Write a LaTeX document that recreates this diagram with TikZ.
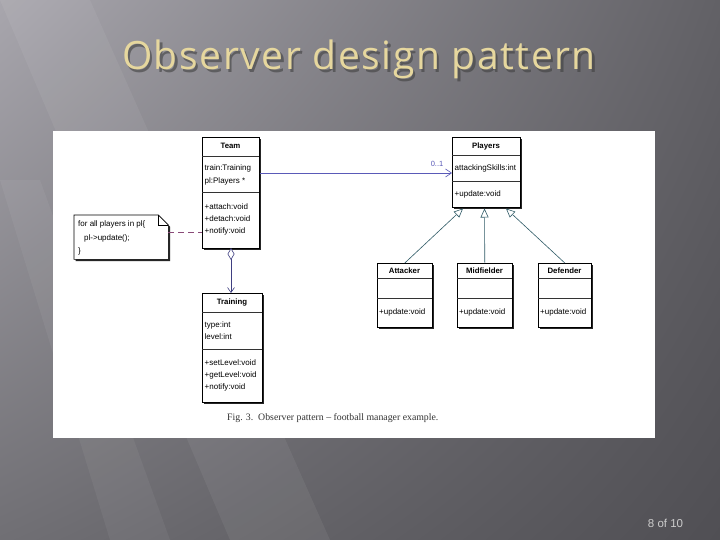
\documentclass[tikz,border=0pt]{standalone}
\usepackage{fontspec}
\setmainfont{Liberation Sans}
\newfontfamily\titlefont[LetterSpace=4]{Open Sans}
\newfontfamily\capfont[Ligatures=TeX]{Liberation Serif}
\usetikzlibrary{arrows.meta,shadows,calc,shadings}
\definecolor{titlecol}{HTML}{E6D79E}
\definecolor{assoc}{HTML}{5A5AB8}
\definecolor{gen}{HTML}{2F5A66}
\definecolor{notedash}{HTML}{8A4A78}
\definecolor{bgul}{RGB}{168,166,173}
\definecolor{bgur}{RGB}{98,97,102}
\definecolor{bgll}{RGB}{112,111,116}
\definecolor{bglr}{RGB}{80,79,84}
\tikzset{
  umlbox/.style={draw=black, fill=white, line width=0.6pt, anchor=north west, inner sep=0pt,
    drop shadow={shadow xshift=1.6pt, shadow yshift=-1.6pt, opacity=1, fill=black!85}},
  umltxt/.style={anchor=west, inner sep=0pt, font=\fontsize{8}{9}\selectfont},
  umlhead/.style={anchor=center, inner sep=0pt, font=\fontsize{7.8}{9}\selectfont\bfseries},
  sep/.style={line width=0.5pt, draw=black!80},
  genarrow/.style={gen, line width=0.6pt, -{Triangle[open, fill=white, length=9pt, width=8pt]}},
}
\begin{document}
\begin{tikzpicture}[x=1pt,y=-1pt]
\useasboundingbox (0,0) rectangle (720,540);
% background
\shade[upper left=bgul, upper right=bgur, lower left=bgll, lower right=bglr]
  (0,0) rectangle (720,540);
\fill[white, opacity=0.06] (0,0) -- (90,0) -- (330,540) -- (230,540) -- cycle;
\fill[white, opacity=0.05] (0,180) -- (40,180) -- (170,540) -- (110,540) -- cycle;
% title
\node[text=black!75, opacity=0.6, anchor=base] at (361.5,72.5) {\titlefont\fontsize{39}{44}\selectfont Observer design pattern};
\node[text=titlecol, anchor=base] (title) at (359,70) {\titlefont\fontsize{39}{44}\selectfont Observer design pattern};
% white panel
\node[fill=white, anchor=north west, minimum width=602pt, minimum height=307pt, inner sep=0pt] (panel) at (53,131) {};

% Team
\node[umlbox, minimum width=57pt, minimum height=111pt] (team) at (202,137) {};
\draw[sep] (202,156) -- (259,156);
\draw[sep] (202,192) -- (259,192);
\node[umlhead] at (230.5,146) {Team};
\node[umltxt] at (204.5,168) {train:Training};
\node[umltxt] at (204.5,181) {pl:Players *};
\node[umltxt] at (204.5,207) {+attach:void};
\node[umltxt] at (204.5,219) {+detach:void};
\node[umltxt] at (204.5,231) {+notify:void};

% Players
\node[umlbox, minimum width=68pt, minimum height=70pt] (players) at (452,137) {};
\draw[sep] (452,155) -- (520,155);
\draw[sep] (452,181) -- (520,181);
\node[umlhead] at (486,146) {Players};
\node[umltxt] at (454.5,168) {attackingSkills:int};
\node[umltxt] at (454.5,194) {+update:void};

% Training
\node[umlbox, minimum width=60pt, minimum height=109pt] (training) at (202,293) {};
\draw[sep] (202,312) -- (262,312);
\draw[sep] (202,349) -- (262,349);
\node[umlhead] at (232,302) {Training};
\node[umltxt] at (204.5,325) {type:int};
\node[umltxt] at (204.5,337) {level:int};
\node[umltxt] at (204.5,363) {+setLevel:void};
\node[umltxt] at (204.5,375) {+getLevel:void};
\node[umltxt] at (204.5,387) {+notify:void};

% subclasses
\node[umlbox, minimum width=55pt, minimum height=64pt] (attacker) at (377,263) {};
\draw[sep] (377,278) -- (432,278);
\draw[sep] (377,298) -- (432,298);
\node[umlhead] at (404.5,270.5) {Attacker};
\node[umltxt] at (379,312) {+update:void};

\node[umlbox, minimum width=55pt, minimum height=64pt] (midfielder) at (457,263) {};
\draw[sep] (457,278) -- (512,278);
\draw[sep] (457,298) -- (512,298);
\node[umlhead] at (484.5,270.5) {Midfielder};
\node[umltxt] at (459,312) {+update:void};

\node[umlbox, minimum width=53pt, minimum height=64pt] (defender) at (538,263) {};
\draw[sep] (538,278) -- (591,278);
\draw[sep] (538,298) -- (591,298);
\node[umlhead] at (564.5,270.5) {Defender};
\node[umltxt] at (540,312) {+update:void};

% note
\node[anchor=north west, minimum width=94pt, minimum height=44pt, inner sep=0pt] (note) at (74,215) {};
\fill[black!85] ($(note.north west)+(1.6,1.6)$) -- ($(note.north east)+(-10+1.6,1.6)$) -- ($(note.north east)+(1.6,10+1.6)$) -- ($(note.south east)+(1.6,1.6)$) -- ($(note.south west)+(1.6,1.6)$) -- cycle;
\draw[fill=white, line width=0.6pt] (note.north west) -- ($(note.north east)+(-10,0)$) -- ($(note.north east)+(0,10)$) -- (note.south east) -- (note.south west) -- cycle;
\draw[line width=0.5pt] ($(note.north east)+(-10,0)$) -- ($(note.north east)+(-10,10)$) -- ($(note.north east)+(0,10)$);
\node[umltxt] at (78,224) {for all players in pl\{};
\node[umltxt] at (84,238) {pl-\textgreater update();};
\node[umltxt] at (78,251) {\}};

% connectors
\coordinate (ta) at (team.east |- 0,173);
\coordinate (pa) at (players.west |- 0,173);
\draw[assoc, line width=0.6pt, -{Straight Barb[length=6pt, width=8pt]}] (ta) -- (pa);
\node[text=assoc, inner sep=0pt, font=\fontsize{7.5}{8}\selectfont] at (437,163.5) {0..1};

\draw[notedash, line width=0.9pt, dash pattern=on 6pt off 4pt] (note.east |- 0,232) -- (team.west |- 0,232);

\coordinate (agg) at (231,248);
\draw[color=assoc!70!black, line width=0.6pt, {Diamond[open, fill=white, length=12pt, width=7pt]}-{Straight Barb[length=5pt, width=7pt]}] (agg) -- (agg |- training.north);

\draw[genarrow] (attacker.north) -- (463,208.5);
\draw[genarrow] (midfielder.north |- 0,263) -- (484.5,208.5);
\draw[genarrow] (defender.north) -- (506,208.5);

% caption
\node[text=black!80, anchor=base west, inner sep=0pt] (caption) at (227,420) {\capfont\fontsize{9.8}{11}\selectfont Fig. 3.\ \ Observer pattern – football manager example.};
% page number
\node[text=black!20, inner sep=0pt] (page) at (665.5,523) {\fontsize{11.5}{12}\selectfont 8 of 10};
\end{tikzpicture}
\end{document}
